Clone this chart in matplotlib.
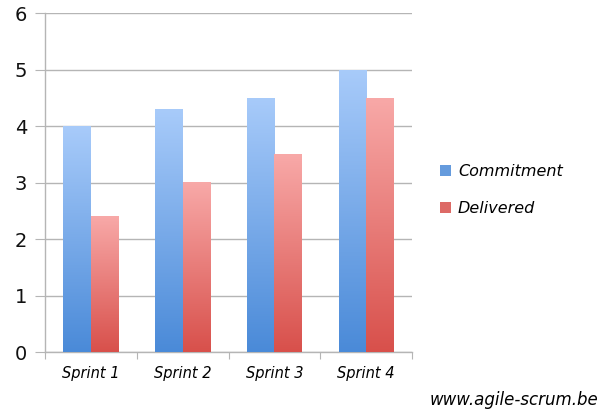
import numpy as np
import matplotlib.pyplot as plt
from matplotlib.colors import LinearSegmentedColormap
from matplotlib.patches import Rectangle

sprints = ["Sprint 1", "Sprint 2", "Sprint 3", "Sprint 4"]
commitment = [4.0, 4.3, 4.5, 5.0]
delivered = [2.4, 3.0, 3.5, 4.5]

# gradient colours (bottom, top)
blue_grad = ["#4a8ad8", "#a8cbfa"]
red_grad = ["#d8504b", "#f8a9a8"]

HAND = {"family": "DejaVu Sans", "style": "italic"}

fig = plt.figure(figsize=(6.04, 4.11), dpi=100)
ax = fig.add_axes([45 / 604, 1 - 352 / 411, (412 - 45) / 604, (352 - 13) / 411])

x = np.arange(len(sprints))
w = 0.3


def gradient_bars(xpos, vals, cols):
    bars = ax.bar(xpos, vals, w, color=cols[1], edgecolor="none", zorder=3)
    cmap = LinearSegmentedColormap.from_list("g", cols)
    grad = np.linspace(0, 1, 256).reshape(-1, 1)
    for b in bars:
        bx, bw, bh = b.get_x(), b.get_width(), b.get_height()
        im = ax.imshow(grad, cmap=cmap, aspect="auto", origin="lower",
                       extent=[bx, bx + bw, 0, bh], zorder=4)
        im.set_clip_path(b)
    return bars


gradient_bars(x - w / 2, commitment, blue_grad)
gradient_bars(x + w / 2, delivered, red_grad)

ax.set_xlim(-0.5, len(sprints) - 0.5)
ax.set_ylim(0, 6)
ax.set_yticks(range(0, 7))
ax.yaxis.grid(True, color="#b5b5b5", linewidth=1.0, zorder=0)
ax.set_axisbelow(True)

for s in ["top", "right"]:
    ax.spines[s].set_visible(False)
for s in ["left", "bottom"]:
    ax.spines[s].set_color("#b5b5b5")
    ax.spines[s].set_linewidth(1.0)

# category tick marks between groups
ax.set_xticks(np.arange(-0.5, len(sprints), 1.0))
ax.set_xticklabels([])
ax.set_xticks(x, minor=True)
ax.set_xticklabels(sprints, minor=True, fontsize=10.5, **HAND)
ax.tick_params(axis="x", which="major", length=5, color="#b5b5b5", direction="out")
ax.tick_params(axis="x", which="minor", length=0, pad=10)
ax.tick_params(axis="y", length=7, color="#b5b5b5", labelsize=14, pad=6)
for t in ax.get_yticklabels():
    t.set_color("#111111")

# legend
lx = 440 / 604
for i, (lab, cols) in enumerate([("Commitment", blue_grad), ("Delivered", red_grad)]):
    ly = 1 - (171 + 37 * i) / 411
    fig.patches.append(Rectangle((lx, ly - 5 / 411), 11 / 604, 11 / 411,
                                 transform=fig.transFigure, facecolor=cols[0],
                                 edgecolor="none", alpha=0.85))
    fig.text(458 / 604, ly, lab, fontsize=11.5, va="center", ha="left", **HAND)

fig.text(598 / 604, 1 - 400 / 411, "www.agile-scrum.be", fontsize=12,
         ha="right", va="center", **HAND)

fig.savefig("out.png", dpi=100)
